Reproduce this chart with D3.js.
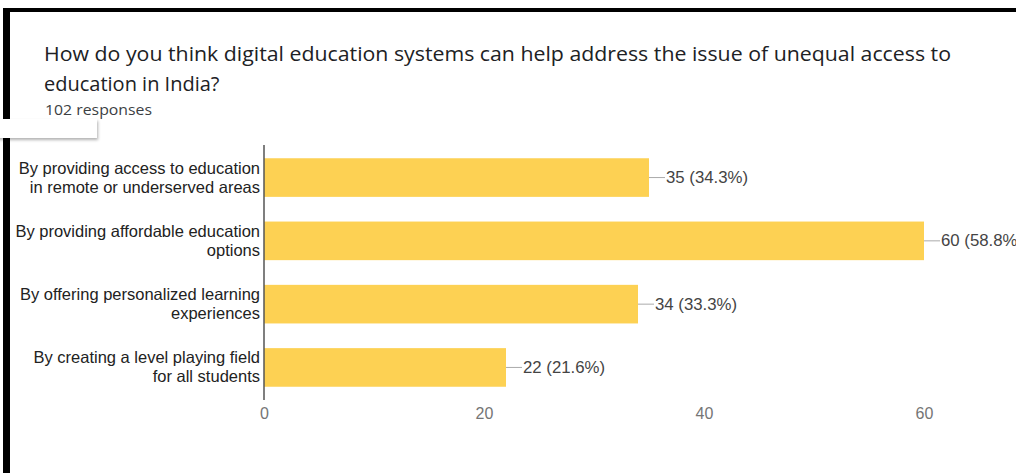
<!DOCTYPE html>
<html>
<head>
<meta charset="utf-8">
<script src="https://cdn.jsdelivr.net/npm/d3@7"></script>
<style>
html,body{margin:0;padding:0;background:#fff;overflow:hidden;}
svg{display:block;}
</style>
</head>
<body>
<svg id="chart" width="1016" height="473"></svg>
<script>
const titleLines = ["How do you think digital education systems can help address the issue of unequal access to", "education in India?"];
const subtitle = "102 responses";
const categories = [
  ["By providing access to education", "in remote or underserved areas"],
  ["By providing affordable education", "options"],
  ["By offering personalized learning", "experiences"],
  ["By creating a level playing field", "for all students"]
];
const counts = [35, 60, 34, 22];
const percents = ["34.3%", "58.8%", "33.3%", "21.6%"];
const tickValues = [0, 20, 40, 60];

const svg = d3.select("#chart");

// frame
svg.append("rect").attr("x", 4).attr("y", 8).attr("width", 1012).attr("height", 4).attr("fill", "#000");
svg.append("rect").attr("x", 3).attr("y", 8).attr("width", 7).attr("height", 465).attr("fill", "#000");

// white box overlay with shadow
const defs = svg.append("defs");
const f = defs.append("filter").attr("id", "sh").attr("x", "-10%").attr("y", "-50%").attr("width", "130%").attr("height", "250%");
f.append("feDropShadow").attr("dx", 1).attr("dy", 2).attr("stdDeviation", 1.5).attr("flood-color", "#000").attr("flood-opacity", 0.3);
svg.append("rect").attr("x", -5).attr("y", 119).attr("width", 102).attr("height", 19).attr("fill", "#fff").attr("filter", "url(#sh)");

// title
const title = svg.append("text").attr("font-family", "'Open Sans', Roboto, Arial, sans-serif").attr("font-size", 20).attr("fill", "#202124");
titleLines.forEach((t, i) => {
  const ts = title.append("tspan").attr("x", 44).attr("y", 61 + i * 30).text(t);
  if (i === 0) ts.attr("textLength", 907).attr("lengthAdjust", "spacingAndGlyphs");
});
svg.append("text").attr("x", 45).attr("y", 115).attr("font-family", "'Open Sans', Roboto, Arial, sans-serif").attr("font-size", 15)
  .attr("fill", "#3c4043").attr("textLength", 107).attr("lengthAdjust", "spacingAndGlyphs").text(subtitle);

const x = d3.scaleLinear().domain([0, 60]).range([264, 924]);
const y = d3.scaleBand().domain(d3.range(categories.length)).range([145.6, 399.4]).paddingInner(0.39).paddingOuter(0.2);

// bars
svg.append("g").selectAll("rect").data(counts).join("rect")
  .attr("x", x(0)).attr("y", (d, i) => y(i))
  .attr("width", d => x(d) - x(0)).attr("height", y.bandwidth())
  .attr("fill", "#fdd153");

// axis line
svg.append("line").attr("x1", x(0)).attr("x2", x(0)).attr("y1", 145).attr("y2", 400).attr("stroke", "#555").attr("stroke-width", 1.5);

// tick labels
const xAxis = d3.axisBottom(x).tickValues(tickValues).tickSize(0).tickFormat(d3.format("d"));
const ax = svg.append("g").attr("transform", "translate(0,405)").call(xAxis);
ax.select(".domain").remove();
ax.selectAll("text").attr("font-family", "Arial, 'Liberation Sans', sans-serif").attr("font-size", 16).attr("fill", "#757575");

// category labels
categories.forEach((lines, i) => {
  const cy = y(i) + y.bandwidth() / 2;
  const t = svg.append("text").attr("text-anchor", "end").attr("font-family", "Arial, 'Liberation Sans', sans-serif").attr("font-size", 16.5).attr("fill", "#222");
  lines.forEach((l, j) => {
    t.append("tspan").attr("x", 260).attr("y", cy + (j - (lines.length - 1) / 2) * 19 + 5.5).text(l);
  });
});

// value labels with leader lines
counts.forEach((d, i) => {
  const cy = y(i) + y.bandwidth() / 2;
  svg.append("line").attr("x1", x(d)).attr("x2", x(d) + 16).attr("y1", cy).attr("y2", cy).attr("stroke", "#aaa").attr("stroke-width", 1);
  svg.append("text").attr("x", x(d) + 17).attr("y", cy + 5.5).attr("font-family", "Arial, 'Liberation Sans', sans-serif").attr("font-size", 16.8).attr("fill", "#444").text(`${d} (${percents[i]})`);
});
</script>
</body>
</html>
